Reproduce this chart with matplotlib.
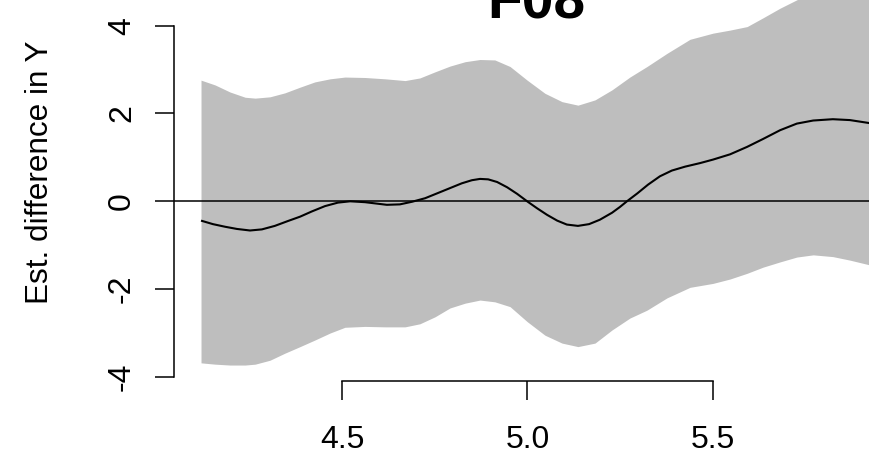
import matplotlib
matplotlib.use("Agg")
import matplotlib.pyplot as plt

plt.rcParams['font.family'] = ['Liberation Sans', 'DejaVu Sans']

# Confidence band
x_band = [4.120, 4.158, 4.198, 4.239, 4.266, 4.306, 4.346, 4.387, 4.427, 4.468,
          4.508, 4.562, 4.616, 4.670, 4.710, 4.751, 4.791, 4.832, 4.872, 4.912,
          4.953, 4.999, 5.047, 5.093, 5.136, 5.182, 5.228, 5.276, 5.322, 5.376,
          5.438, 5.500, 5.546, 5.592, 5.635, 5.681, 5.726, 5.770, 5.823, 5.869,
          5.923]
upper = [2.76, 2.65, 2.49, 2.37, 2.35, 2.38, 2.47, 2.60, 2.72, 2.79,
         2.83, 2.82, 2.79, 2.75, 2.81, 2.95, 3.08, 3.18, 3.23, 3.22,
         3.07, 2.76, 2.46, 2.27, 2.19, 2.31, 2.54, 2.83, 3.07, 3.37,
         3.69, 3.83, 3.90, 3.98, 4.18, 4.40, 4.59, 4.77, 4.88, 4.95,
         5.00]
lower = [-3.68, -3.71, -3.73, -3.73, -3.71, -3.62, -3.46, -3.31, -3.16, -3.00,
         -2.87, -2.85, -2.86, -2.86, -2.79, -2.63, -2.43, -2.32, -2.25, -2.29,
         -2.40, -2.74, -3.05, -3.23, -3.31, -3.23, -2.93, -2.66, -2.48, -2.20,
         -1.96, -1.87, -1.77, -1.64, -1.50, -1.38, -1.27, -1.22, -1.26, -1.34,
         -1.45]

# Estimated difference curve
x_line = [4.120, 4.152, 4.185, 4.217, 4.252, 4.284, 4.319, 4.354, 4.387, 4.419,
          4.454, 4.489, 4.522, 4.562, 4.621, 4.656, 4.689, 4.724, 4.759, 4.791,
          4.823, 4.850, 4.872, 4.894, 4.918, 4.945, 4.972, 4.999, 5.026, 5.053,
          5.080, 5.106, 5.136, 5.166, 5.195, 5.228, 5.249, 5.268, 5.296, 5.325,
          5.357, 5.389, 5.425, 5.465, 5.500, 5.546, 5.592, 5.635, 5.681, 5.726,
          5.770, 5.823, 5.869, 5.923]
estimate = [-0.44, -0.52, -0.58, -0.63, -0.665, -0.64, -0.56, -0.45, -0.35, -0.23,
            -0.11, -0.03, 0.00, -0.02, -0.08, -0.07, -0.01, 0.07, 0.19, 0.30,
            0.41, 0.48, 0.51, 0.50, 0.44, 0.32, 0.17, 0.00, -0.16, -0.31,
            -0.44, -0.53, -0.56, -0.52, -0.42, -0.26, -0.13, 0.00, 0.18, 0.38,
            0.57, 0.70, 0.79, 0.87, 0.95, 1.07, 1.24, 1.42, 1.62, 1.77,
            1.84, 1.87, 1.85, 1.78]

x_ticks = [4.5, 5.0, 5.5]
x_tick_labels = ["4.5", "5.0", "5.5"]
y_ticks = [-4, -2, 0, 2, 4]
y_tick_labels = ["-4", "-2", "0", "2", "4"]
title = "F08"
ylabel = "Est. difference in Y"

W, H = 870, 455
fig = plt.figure(figsize=(W / 100, H / 100), dpi=100)
ax = fig.add_axes([174 / W, (H - 380.7) / H, 1 - 174 / W, 380.7 / H])

ax.fill_between(x_band, lower, upper, color="#bebebe", linewidth=0)
ax.plot(x_line, estimate, color="black", linewidth=1.5,
        solid_joinstyle="round", solid_capstyle="butt")
ax.axhline(0, color="black", linewidth=1.1)

ax.set_xlim(4.5 - (342 - 174) / 371, 4.5 + (870 - 342) / 371)
ax.set_ylim((201.3 - 380.7) / 43.9, 201.3 / 43.9)

for s in ["top", "right"]:
    ax.spines[s].set_visible(False)
ax.spines["left"].set_bounds(-4, 4)
ax.spines["bottom"].set_bounds(4.5, 5.5)
for s in ["left", "bottom"]:
    ax.spines[s].set_linewidth(1.1)

ax.set_xticks(x_ticks)
ax.set_xticklabels(x_tick_labels)
ax.set_yticks(y_ticks)
ax.set_yticklabels(y_tick_labels, rotation=90, va="center")
ax.tick_params(axis="both", length=13.7, width=1.1, labelsize=23)
ax.tick_params(axis="x", pad=18)
ax.tick_params(axis="y", pad=13)

fig.text(40 / W, 1 - 172.5 / H, ylabel, rotation=90, ha="center", va="center",
         fontsize=22.7)
fig.text(536 / W, 1 - 18.3 / H, title, ha="center", va="baseline",
         fontsize=41, fontweight="bold")

fig.savefig("out.png", dpi=100)
